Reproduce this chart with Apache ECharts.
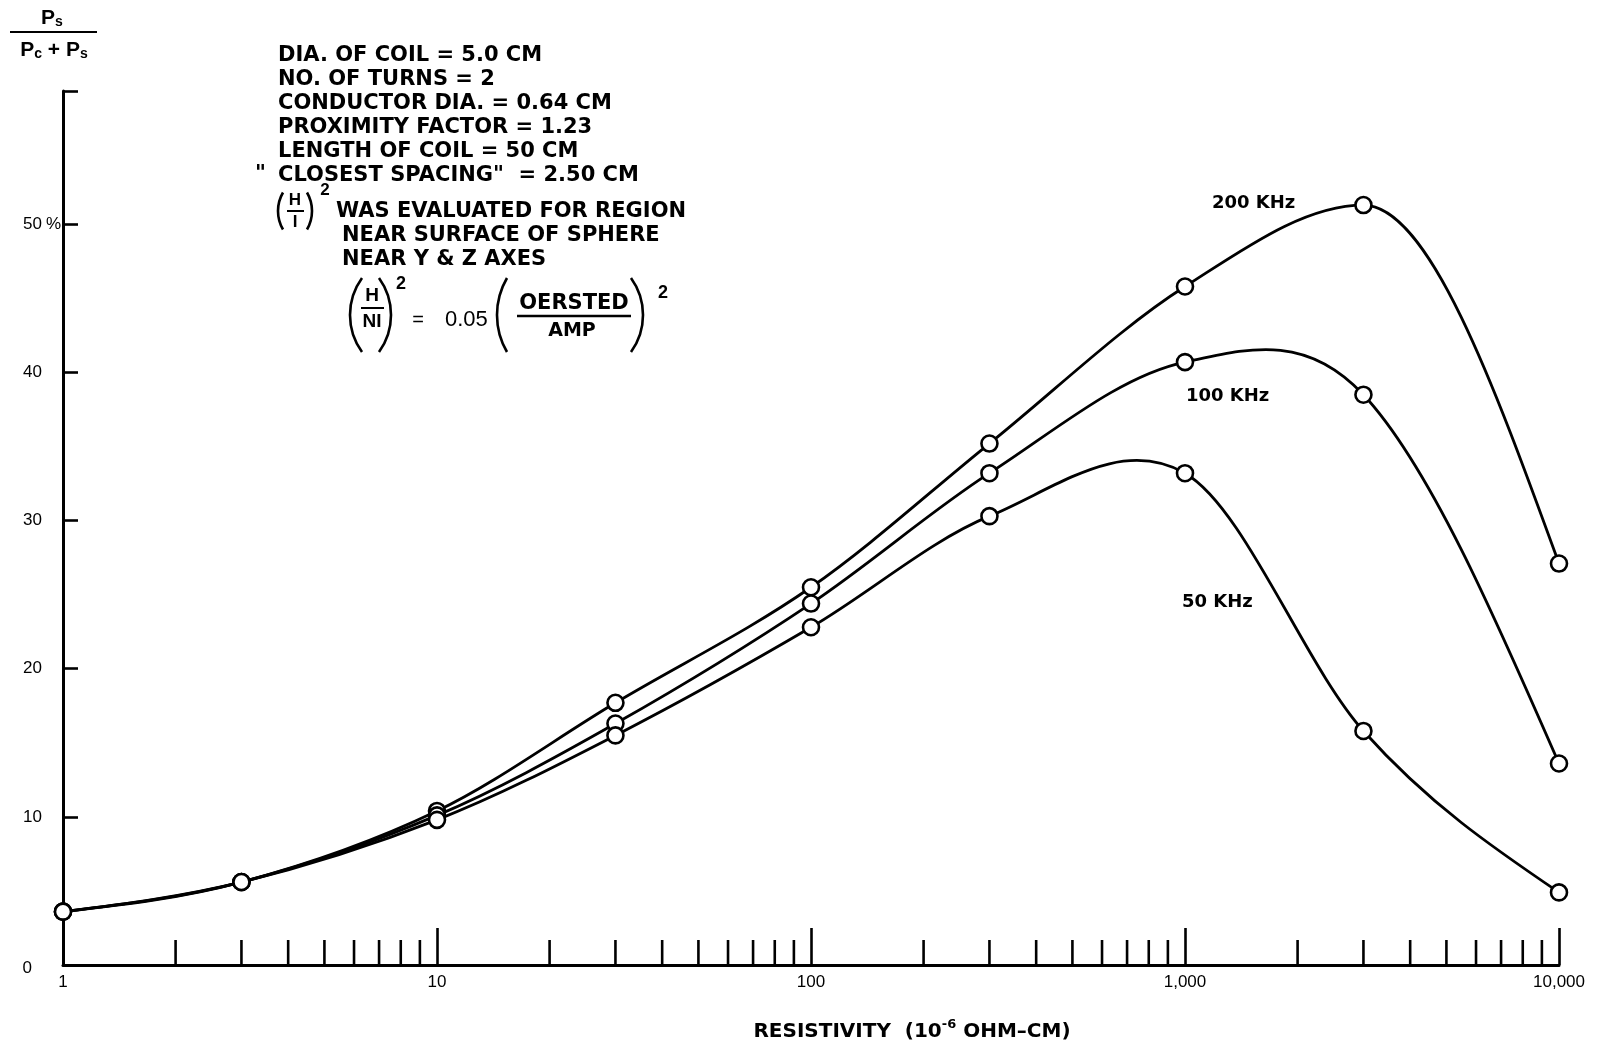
<!DOCTYPE html>
<html><head><meta charset="utf-8">
<script src="https://cdn.jsdelivr.net/npm/echarts@6/dist/echarts.min.js"></script>
<style>html,body{margin:0;padding:0;background:#fff}#c{width:1600px;height:1044px}</style>
</head><body><div id="c"></div>
<script>
// ---- data ----
const resistivity = [1, 3, 10, 30, 100, 300, 1000, 3000, 10000];
const khz200 = [3.6, 5.6, 10.4, 17.7, 25.5, 35.2, 45.8, 51.3, 27.1];
const khz100 = [3.6, 5.6, 10.1, 16.3, 24.4, 33.2, 40.7, 38.5, 13.6];
const khz50  = [3.6, 5.6,  9.8, 15.5, 22.8, 30.3, 33.2, 15.8, 4.9];
const seriesNames = ['200 KHz', '100 KHz', '50 KHz'];
const xTickValues = [1, 10, 100, 1000, 10000];
const xTickLabels = ['1', '10', '100', '1,000', '10,000'];
const xMinorTicks = [2, 3, 4, 5, 6, 7, 8, 9,
  20, 30, 40, 50, 60, 70, 80, 90,
  200, 300, 400, 500, 600, 700, 800, 900,
  2000, 3000, 4000, 5000, 6000, 7000, 8000, 9000];
const yTickValues = [0, 10, 20, 30, 40, 50];
const yTickLabels = ['0', '10', '20', '30', '40', '50'];
const noteLines = [
  'DIA. OF COIL = 5.0 CM',
  'NO. OF TURNS = 2',
  'CONDUCTOR DIA. = 0.64 CM',
  'PROXIMITY FACTOR = 1.23',
  'LENGTH OF COIL = 50 CM',
  'CLOSEST SPACING"  = 2.50 CM'
];
const noteLines2 = ['WAS EVALUATED FOR REGION', 'NEAR SURFACE OF SPHERE', 'NEAR Y & Z AXES'];

// ---- helpers ----
const BOLD = 'bold 21px "DejaVu Sans"';
function T(text, x, y, font, align) {
  return { type: 'text', x: x, y: y, z: 20,
    style: { text: text, font: font, fill: '#000', align: align || 'left', verticalAlign: 'middle' } };
}
function L(x1, y1, x2, y2, w) {
  return { type: 'line', z: 20, shape: { x1: x1, y1: y1, x2: x2, y2: y2 }, style: { stroke: '#000', lineWidth: w || 2 } };
}
function paren(edgeX, cy, half, depth, left) {
  const R = (half * half + depth * depth) / (2 * depth);
  const th = Math.asin(half / R);
  const cx = left ? edgeX + R : edgeX - R;
  return { type: 'arc', z: 20,
    shape: { cx: cx, cy: cy, r: R, startAngle: left ? Math.PI - th : -th, endAngle: left ? Math.PI + th : th, clockwise: true },
    style: { stroke: '#000', lineWidth: 2.6, fill: 'none' } };
}

const graphics = [];
noteLines.forEach((s, i) => graphics.push(T(s, 278, 56 + i * 23.9, BOLD)));
graphics.push(T('"', 255, 175, BOLD));
graphics.push(paren(278, 211, 18.5, 5, true), paren(312, 211, 18.5, 5, false));
graphics.push(T('H', 295, 200, 'bold 17px "Liberation Sans"', 'center'));
graphics.push(L(287, 211, 304, 211, 2));
graphics.push(T('I', 295, 222, 'bold 17px "Liberation Sans"', 'center'));
graphics.push(T('2', 325, 190, 'bold 17px "Liberation Sans"', 'center'));
graphics.push(T(noteLines2[0], 336, 212, BOLD));
graphics.push(T(noteLines2[1], 342, 236, BOLD));
graphics.push(T(noteLines2[2], 342, 260, BOLD));
// formula
graphics.push(paren(350, 315, 37, 12, true), paren(391, 315, 37, 12, false));
graphics.push(T('H', 372, 296, 'bold 19px "Liberation Sans"', 'center'));
graphics.push(L(361, 308, 384, 308, 2));
graphics.push(T('NI', 372, 322, 'bold 19px "Liberation Sans"', 'center'));
graphics.push(T('2', 396, 284, 'bold 18px "Liberation Sans"', 'left'));
graphics.push(T('=', 418, 320, '20px "Liberation Sans"', 'center'));
graphics.push(T('0.05', 445, 320, '22px "Liberation Sans"', 'left'));
graphics.push(paren(497, 315, 37, 10, true), paren(643, 315, 37, 12, false));
graphics.push(T('OERSTED', 574, 304, 'bold 21px "DejaVu Sans"', 'center'));
graphics.push(L(517, 316, 631, 316, 2.5));
graphics.push(T('AMP', 572, 331, 'bold 19px "DejaVu Sans"', 'center'));
graphics.push(T('2', 663, 293, 'bold 18px "Liberation Sans"', 'center'));
// y-axis title
const pRich = { p: { font: 'bold 21px "Liberation Sans"', lineHeight: 22, verticalAlign: 'middle' },
                s: { font: 'bold 14px "Liberation Sans"', verticalAlign: 'bottom', lineHeight: 14 } };
graphics.push({ type: 'text', x: 52, y: 18, z: 20, style: { text: '{p|P}{s|s}', align: 'center', verticalAlign: 'middle', fill: '#000', rich: pRich } });
graphics.push(L(10, 32, 97, 32, 2));
graphics.push({ type: 'text', x: 54, y: 50, z: 20, style: { text: '{p|P}{s|c}{p| + P}{s|s}', align: 'center', verticalAlign: 'middle', fill: '#000', rich: pRich } });
graphics.push(T('%', 46, 224, '17px "Liberation Sans"', 'left'));
// series labels
graphics.push(T(seriesNames[0], 1212, 203, 'bold 18px "DejaVu Sans"'));
graphics.push(T(seriesNames[1], 1186, 396, 'bold 18px "DejaVu Sans"'));
graphics.push(T(seriesNames[2], 1182, 602, 'bold 18px "DejaVu Sans"'));
// x-axis name
graphics.push({ type: 'text', x: 912, y: 1030, z: 20, style: { text: '{t|RESISTIVITY  (10}{u|-6}{t| OHM–CM)}', align: 'center', verticalAlign: 'middle', fill: '#000',
  rich: { t: { font: 'bold 20px "DejaVu Sans"', lineHeight: 24, verticalAlign: 'bottom' }, u: { font: 'bold 13px "DejaVu Sans"', lineHeight: 24, verticalAlign: 'top' } } } });

// smooth curve y(x) through pixel points: cubic Hermite with finite-difference tangents
function hermitePath(pts, flatPeaks) {
  const n = pts.length, m = [], sec = [];
  for (let i = 0; i < n - 1; i++) sec.push((pts[i + 1][1] - pts[i][1]) / (pts[i + 1][0] - pts[i][0]));
  for (let i = 1; i < n - 1; i++) {
    let t = (pts[i + 1][1] - pts[i - 1][1]) / (pts[i + 1][0] - pts[i - 1][0]);
    if (flatPeaks && sec[i - 1] * sec[i] < 0) t = 0;
    m[i] = t;
  }
  m[0] = 1.5 * sec[0] - 0.5 * m[1];
  m[n - 1] = 1.5 * sec[n - 2] - 0.5 * m[n - 2];
  let d = 'M' + pts[0][0] + ' ' + pts[0][1];
  for (let i = 0; i < n - 1; i++) {
    const h = (pts[i + 1][0] - pts[i][0]) / 3;
    d += ' C' + (pts[i][0] + h) + ' ' + (pts[i][1] + m[i] * h) + ' ' +
         (pts[i + 1][0] - h) + ' ' + (pts[i + 1][1] - m[i + 1] * h) + ' ' + pts[i + 1][0] + ' ' + pts[i + 1][1];
  }
  return d;
}
function curveSeries(name, vals, flatPeaks) {
  return { type: 'custom', name: name, silent: true, z: 4, clip: false,
    data: resistivity.map((x, i) => [x, vals[i]]),
    renderItem: (params, api) => {
      if (params.dataIndex !== 0) return null;
      const pts = resistivity.map((x, i) => api.coord([x, vals[i]]));
      return { type: 'path', shape: { pathData: hermitePath(pts, flatPeaks) },
        style: { stroke: '#000', lineWidth: 2.8, fill: 'none', lineJoin: 'round' } };
    } };
}
function pointSeries(name, vals) {
  return { type: 'scatter', name: name, data: resistivity.map((x, i) => [x, vals[i]]),
    symbol: 'circle', symbolSize: 16, z: 6, silent: true,
    itemStyle: { color: '#fff', borderColor: '#000', borderWidth: 2.6, opacity: 1 } };
}

const chart = echarts.init(document.getElementById('c'), null, { renderer: 'canvas' });
chart.setOption({
  animation: false,
  backgroundColor: '#fff',
  grid: { left: 63, right: 41, top: 91, bottom: 79, containLabel: false, outerBoundsMode: 'none' },
  xAxis: {
    type: 'log', logBase: 10, min: 1, max: 10000,
    axisLine: { show: true, lineStyle: { color: '#000', width: 3 } },
    axisTick: { show: true, inside: true, length: 37, lineStyle: { color: '#000', width: 2.6 } },
    axisLabel: { color: '#000', fontFamily: 'Liberation Sans', fontSize: 17, margin: 9,
      formatter: v => { const i = xTickValues.indexOf(Math.round(v)); return i >= 0 ? xTickLabels[i] : ''; } },
    splitLine: { show: false }, minorTick: { show: false }
  },
  yAxis: {
    type: 'value', min: 0, max: 59, interval: 10,
    axisLine: { show: true, lineStyle: { color: '#000', width: 3 } },
    axisTick: { show: true, inside: true, length: 15, lineStyle: { color: '#000', width: 2.6 } },
    axisLabel: { color: '#000', fontFamily: 'Liberation Sans', fontSize: 17, margin: 21,
      formatter: v => { const i = yTickValues.indexOf(v); if (i < 0) return ''; return i === 0 ? '{z|0}' : yTickLabels[i]; },
      rich: { z: { fontFamily: 'Liberation Sans', fontSize: 17, color: '#000', padding: [6, 10, 0, 0] } } },
    splitLine: { show: false }
  },
  graphic: graphics,
  series: [
    { type: 'custom', silent: true, z: 2, clip: false,
      data: xMinorTicks.map(v => [v, 0]),
      renderItem: (params, api) => { const p = api.coord([api.value(0), api.value(1)]);
        return { type: 'line', shape: { x1: p[0], y1: p[1], x2: p[0], y2: p[1] - 25 }, style: { stroke: '#000', lineWidth: 2.6 } }; } },
    curveSeries(seriesNames[0], khz200, true),
    curveSeries(seriesNames[1], khz100, false),
    curveSeries(seriesNames[2], khz50, false),
    pointSeries(seriesNames[0], khz200),
    pointSeries(seriesNames[1], khz100),
    pointSeries(seriesNames[2], khz50)
  ]
});
</script></body></html>
